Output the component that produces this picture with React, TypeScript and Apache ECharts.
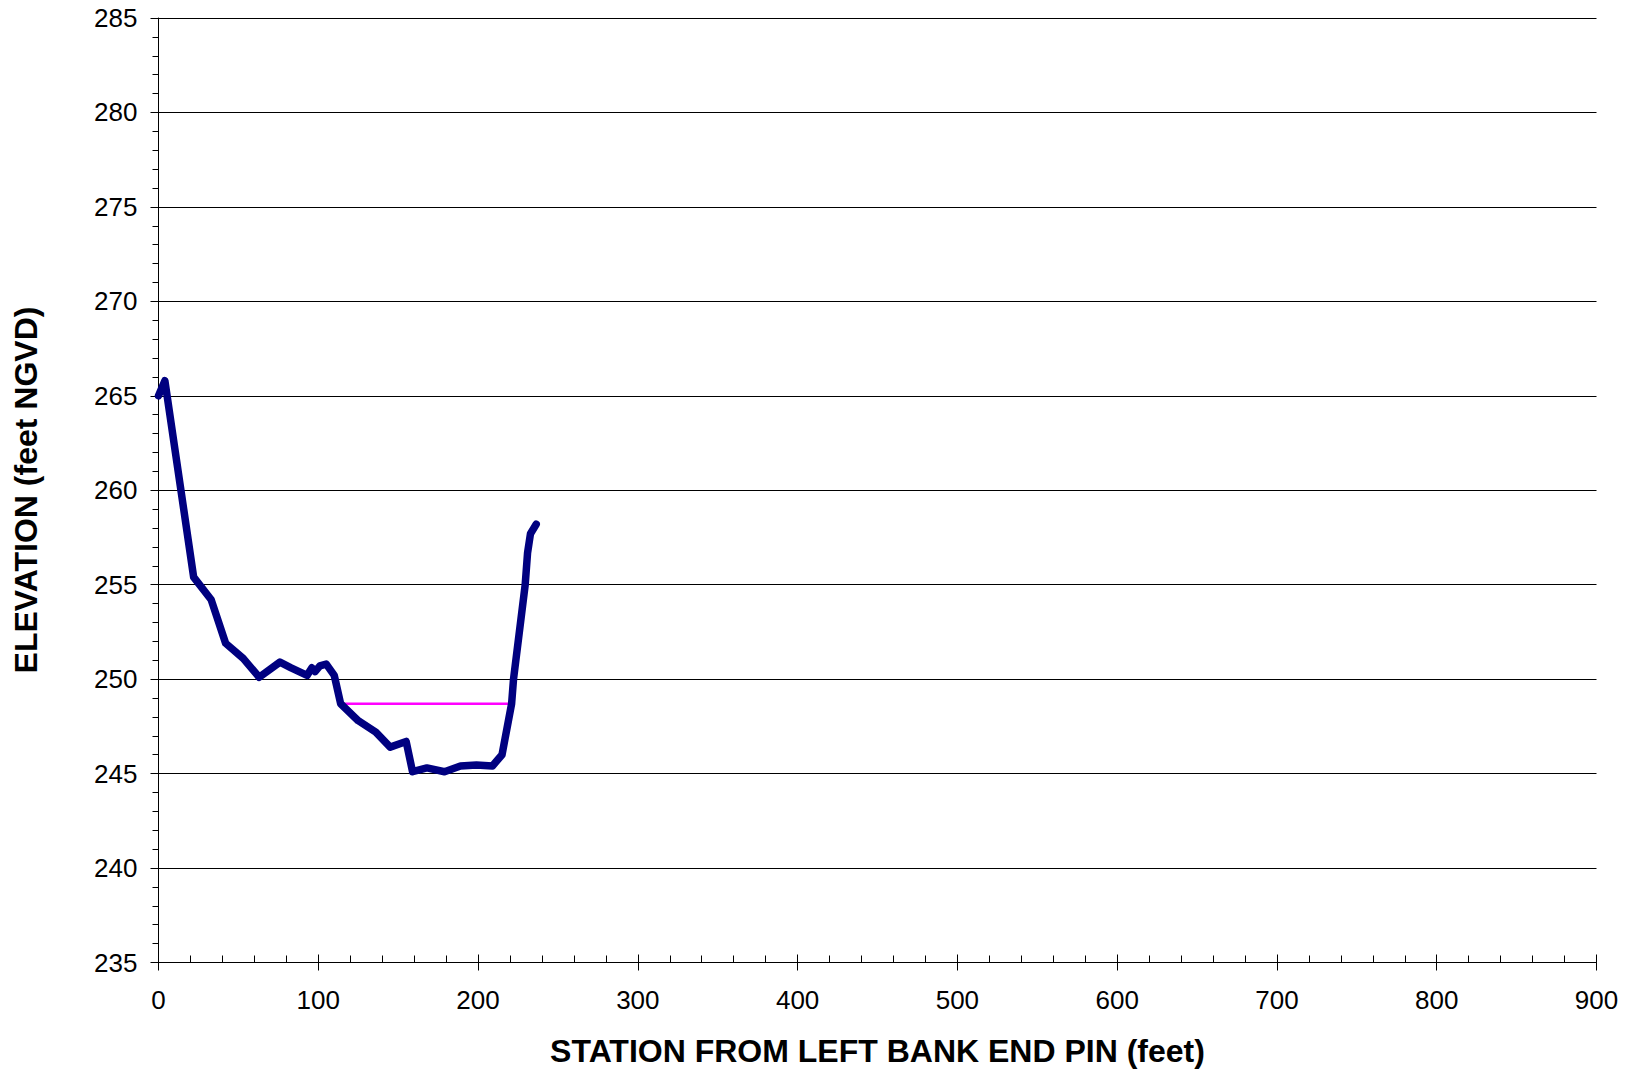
import React, { useEffect, useRef } from "react";
import * as echarts from "echarts";

const stationFt = [0, 4, 22, 33, 42, 53, 63, 76, 83, 93, 96, 98, 101, 105, 110, 114, 125, 136, 145, 155, 159, 168, 179, 189, 199, 209, 215, 221, 222.2, 229.5, 231, 232.8, 236.4];
const elevationFt = [265.0, 265.8, 255.4, 254.2, 251.9, 251.1, 250.1, 250.9, 250.6, 250.2, 250.6, 250.4, 250.7, 250.8, 250.2, 248.7, 247.8, 247.2, 246.4, 246.7, 245.1, 245.3, 245.1, 245.4, 245.45, 245.4, 246.0, 248.7, 250.0, 255.0, 256.7, 257.7, 258.2];
const waterStation = [113.7, 221.0];
const waterElevation = [248.7, 248.7];

const xTitle = "STATION FROM LEFT BANK END PIN (feet)";
const yTitle = "ELEVATION (feet NGVD)";
const xMin = 0, xMax = 900, xStep = 100;
const yMin = 235, yMax = 285, yStep = 5;

const FONT = "'Liberation Sans', Arial, sans-serif";

export default function App() {
  const ref = useRef<HTMLDivElement>(null);
  useEffect(() => {
    if (!ref.current) return;
    const chart = echarts.init(ref.current, null, { renderer: "svg" });
    const profile = stationFt.map((x, i) => [x, elevationFt[i]]);
    const water = waterStation.map((x, i) => [x, waterElevation[i]]);
    const axisLine = { show: true, lineStyle: { color: "#000", width: 1 } };
    chart.setOption({
      animation: false,
      backgroundColor: "#fff",
      grid: { left: 158.5, right: 31.5, top: 18, bottom: 107.5, containLabel: false },
      xAxis: [
        {
          type: "value", min: xMin, max: xMax, interval: xStep, position: "bottom",
          axisLine,
          axisTick: { show: true, inside: false, length: 8, lineStyle: { color: "#000" } },
          axisLabel: { fontSize: 26, color: "#000", fontFamily: FONT, margin: 24 },
          splitLine: { show: false },
        },
        {
          type: "value", min: xMin, max: xMax, interval: xStep, position: "bottom",
          axisLine: { show: false },
          axisTick: { show: true, inside: true, length: 8, lineStyle: { color: "#000" } },
          minorTick: { show: true, splitNumber: 5, length: 7, lineStyle: { color: "#000" } },
          axisLabel: { show: false },
          splitLine: { show: false },
        },
      ],
      yAxis: [
        {
          type: "value", min: yMin, max: yMax, interval: yStep, position: "left",
          axisLine,
          axisTick: { show: true, inside: false, length: 8, lineStyle: { color: "#000" } },
          axisLabel: { fontSize: 26, color: "#000", fontFamily: FONT, margin: 21 },
          splitLine: { show: true, lineStyle: { color: "#000", width: 1 } },
        },
        {
          type: "value", min: yMin, max: yMax, interval: yStep, position: "left",
          axisLine: { show: false },
          axisTick: { show: false },
          minorTick: { show: true, splitNumber: 5, length: 6, lineStyle: { color: "#000" } },
          axisLabel: { show: false },
          splitLine: { show: false },
        },
      ],
      graphic: [
        {
          type: "text", x: 877.5, y: 1051,
          style: { text: xTitle, font: `bold 32px ${FONT}`, fill: "#000", textAlign: "center", textVerticalAlign: "middle" },
        },
        {
          type: "text", x: 26, y: 490, rotation: Math.PI / 2,
          style: { text: yTitle, font: `bold 32px ${FONT}`, fill: "#000", textAlign: "center", textVerticalAlign: "middle" },
        },
      ],
      series: [
        {
          type: "line", xAxisIndex: 0, yAxisIndex: 0, data: water, symbol: "none",
          lineStyle: { color: "#FF00FF", width: 2.5 }, z: 2,
        },
        {
          type: "line", xAxisIndex: 0, yAxisIndex: 0, data: profile, symbol: "none",
          lineStyle: { color: "#000080", width: 7.5, cap: "round", join: "round" }, z: 3,
        },
      ],
    });
    return () => chart.dispose();
  }, []);
  return <div ref={ref} style={{ position: "fixed", left: 0, top: 0, width: 1628, height: 1070 }} />;
}
